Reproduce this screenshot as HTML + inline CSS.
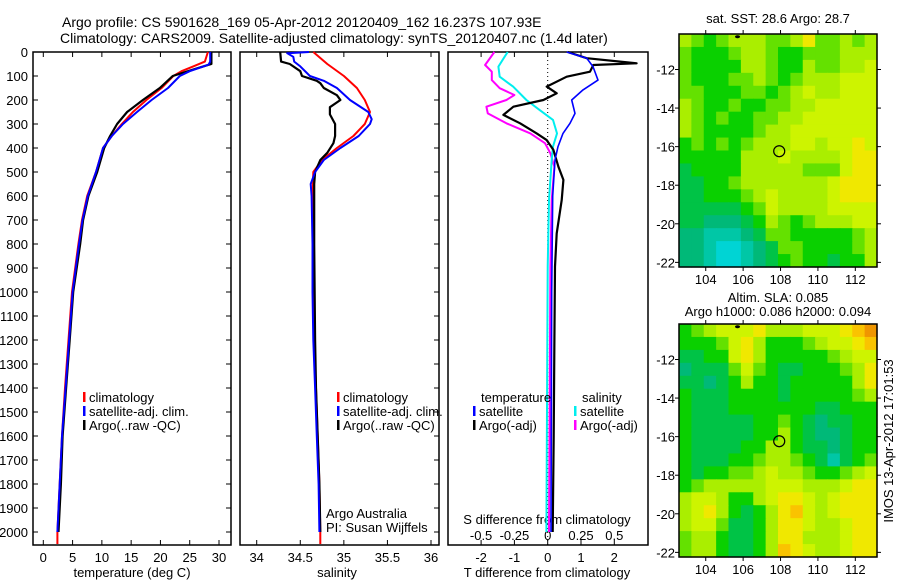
<!DOCTYPE html>
<html><head><meta charset="utf-8">
<style>
html,body{margin:0;padding:0;background:#fff;}
svg{display:block;font-family:"Liberation Sans",sans-serif;}
text{fill:#000;}
</style></head>
<body>
<svg id="fig" width="900" height="580" viewBox="0 0 900 580">
<text x="62" y="27" font-size="14">Argo profile: CS 5901628_169 05-Apr-2012 20120409_162 16.237S 107.93E</text>
<text x="60" y="43" font-size="14">Climatology: CARS2009. Satellite-adjusted climatology: synTS_20120407.nc (1.4d later)</text>
<g id="g1"></g>
<g id="g2"></g>
<g id="g3"></g>
<g id="m1"></g>
<g id="m2"></g>
<text transform="translate(893,441) rotate(-90)" font-size="13" text-anchor="middle">IMOS 13-Apr-2012 17:01:53</text>
</svg>
<script>
// ---- data ----
const depthTicks=[0,100,200,300,400,500,600,700,800,900,1000,1100,1200,1300,1400,1500,1600,1700,1800,1900,2000];
const tTicks=[0,5,10,15,20,25,30];
const sTicks=[34,34.5,35,35.5,36];
const tdTicks=[-2,-1,0,1,2];
const sdTicks=[-0.5,-0.25,0,0.25,0.5];
const sdLabels=["-0.5","-0.25","0","0.25","0.5"];
const lonTicks=[104,106,108,110,112];
const latTicks=[-12,-14,-16,-18,-20,-22];

const tClimD=[0,40,60,80,100,150,200,250,300,350,400,500,600,700,800,1000,1200,1400,1600,1800,2000,2050];
const tClim=[28.1,27.6,25.6,23.6,22.2,20.2,17.6,15.3,13.4,11.7,10.2,9.0,7.5,6.6,6.0,4.9,4.3,3.7,3.2,2.8,2.4,2.4];
const tSatD=[0,40,53,80,100,150,200,250,300,350,400,500,600,700,800,1000,1200,1400,1600,1800,2000];
const tSat=[28.5,28.5,28.2,25.0,23.3,21.3,18.5,16.0,13.6,11.7,10.2,9.0,7.6,6.7,6.1,5.0,4.4,3.8,3.2,2.8,2.4];
const tArgoD=[0,50,55,70,100,150,200,250,300,350,400,500,600,700,800,1000,1200,1400,1600,1800,2000];
const tArgo=[28.7,28.7,28.0,26.0,22.1,19.9,17.0,14.3,12.6,11.4,10.4,9.2,7.7,6.8,6.3,5.1,4.5,3.9,3.3,3.0,2.6];

const sClimD=[0,50,100,150,200,250,300,350,400,450,500,600,800,1000,1200,1400,1600,1800,2000,2050];
const sClim=[34.65,34.81,35.0,35.15,35.24,35.3,35.24,35.11,34.92,34.75,34.65,34.64,34.65,34.65,34.66,34.68,34.7,34.72,34.73,34.73];
const sSatD=[0,5,20,40,60,100,120,150,200,250,280,300,350,400,450,500,550,600,800,1000,1200,1400,1600,1800,2000];
const sSat=[34.6,34.35,34.42,34.43,34.5,34.61,34.77,34.92,35.07,35.28,35.32,35.3,35.17,34.96,34.77,34.67,34.62,34.63,34.64,34.64,34.65,34.67,34.69,34.71,34.72];
const sArgoD=[0,40,50,80,100,120,130,150,180,200,230,260,300,350,380,420,450,500,550,800,1200,1400,1600,1800,2000];
const sArgo=[34.27,34.28,34.38,34.5,34.52,34.69,34.73,34.77,34.92,34.96,34.84,34.84,34.9,34.9,34.88,34.81,34.73,34.67,34.66,34.66,34.67,34.68,34.7,34.72,34.73];

const dTSatD=[0,26,61,117,158,200,256,297,339,394,450,600,1000,2000];
const dTSat=[0.57,1.17,1.36,1.51,1.06,0.72,0.82,0.67,0.46,0.31,0.22,0.15,0.12,0.1];
const dTArgoD=[0,26,47,54,82,103,144,172,200,228,262,297,339,367,408,478,533,617,756,894,1200,1600,2000];
const dTArgo=[0.6,1.17,2.67,1.37,1.27,0.57,-0.03,0.27,-0.13,-1.03,-1.33,-0.83,-0.33,-0.03,0.17,0.32,0.47,0.42,0.27,0.22,0.2,0.18,0.15];
const dSSatD=[0,26,61,103,144,200,242,283,339,394,450,617,894,2000];
const dSSat=[-0.3,-0.33,-0.37,-0.36,-0.26,-0.16,-0.06,0.04,0.07,0.04,0.03,0.01,0.0,-0.01];
const dSArgoD=[0,54,82,117,151,179,200,228,256,297,339,380,422,478,617,894,2000];
const dSArgo=[-0.4,-0.47,-0.42,-0.42,-0.36,-0.25,-0.31,-0.46,-0.45,-0.31,-0.13,-0.02,0.02,0.05,0.03,0.02,0.01];

const sstGrid=[
[6,5,4,5,6,6,6,5,5,6,8,5,5,6,5,6],
[5,4,4,4,5,6,6,5,4,4,5,5,5,6,6,6],
[5,4,4,4,4,6,6,5,4,4,6,5,5,6,6,7],
[5,4,4,4,5,5,6,5,4,5,6,6,6,7,7,7],
[5,5,4,4,4,5,5,4,5,6,7,6,6,7,7,7],
[6,5,4,4,5,4,4,5,5,6,6,7,7,7,7,7],
[6,5,4,5,4,4,5,5,6,6,7,7,7,7,7,7],
[6,5,4,4,4,4,5,6,6,7,7,7,7,7,7,7],
[4,5,4,5,4,5,6,6,6,7,7,6,7,7,8,7],
[4,4,4,4,4,6,6,6,7,6,6,6,6,7,8,8],
[3,4,4,4,4,6,6,6,6,6,5,5,5,7,8,8],
[3,3,4,4,5,6,6,6,6,6,6,6,7,8,8,8],
[3,3,4,4,4,5,6,7,6,6,6,6,7,8,8,8],
[3,3,3,3,3,4,5,7,6,6,6,6,7,7,7,7],
[3,3,2,2,2,3,4,6,5,4,5,6,6,6,7,7],
[2,2,1,1,1,2,3,5,5,4,4,4,4,4,5,6],
[2,2,1,0,0,1,2,3,5,5,4,4,4,4,5,6],
[2,2,1,0,0,1,2,3,4,5,4,4,3,4,4,6]];
const slaGrid=[
[4,5,6,7,7,7,8,6,6,6,7,7,7,8,9,10],
[4,4,4,5,7,8,6,4,4,4,5,6,7,7,8,9],
[3,3,4,4,7,8,6,4,4,4,4,4,5,6,7,7],
[2,3,3,3,5,7,5,4,3,3,4,4,4,5,6,8],
[3,3,2,3,4,6,4,4,3,4,4,4,4,4,6,8],
[4,3,3,3,4,4,4,4,3,4,4,4,4,4,5,6],
[4,3,3,3,4,4,4,4,4,4,4,3,3,4,4,4],
[4,3,3,3,3,3,4,4,5,4,3,2,3,3,4,4],
[4,3,3,3,3,3,4,4,6,4,3,2,2,3,4,4],
[4,3,3,3,3,4,4,6,6,4,3,3,2,3,4,4],
[4,3,3,3,4,4,5,6,6,5,4,3,1,3,4,5],
[4,3,4,4,5,5,6,7,6,6,5,4,4,5,6,7],
[4,5,6,6,6,6,6,7,7,7,6,6,6,7,8,8],
[6,7,7,6,4,4,6,7,8,8,7,6,7,8,8,8],
[6,7,8,6,4,3,4,6,8,9,7,6,7,8,8,8],
[6,7,7,5,3,3,4,6,8,8,7,6,6,7,8,8],
[5,6,6,4,3,3,4,6,8,8,6,6,6,7,8,8],
[5,6,6,4,3,3,4,6,9,8,7,6,6,7,8,8]];

// ---- helpers ----
const NS="http://www.w3.org/2000/svg";
function mk(tag,attrs,parent){const e=document.createElementNS(NS,tag);for(const k in attrs)e.setAttribute(k,attrs[k]);parent.appendChild(e);return e;}
function lin(d0,d1,r0,r1){return v=>r0+(v-d0)*(r1-r0)/(d1-d0);}
const pTop=52,pBot=545;
const yD=lin(0,2000,52,532);

function frame(g,x0,x1,name){
  const r=mk('rect',{x:x0,y:pTop,width:x1-x0,height:pBot-pTop,fill:'none',stroke:'#000','stroke-width':1.5},g);
  
  
}
function line(g,xs,ds,xf,color,w,name){
  const pts=xs.map((v,i)=>xf(v).toFixed(1)+','+yD(ds[i]).toFixed(1)).join(' ');
  const p=mk('polyline',{points:pts,fill:'none',stroke:color,'stroke-width':w,'stroke-linejoin':'round'},g);
  
  
}
function txt(g,x,y,s,size,anchor,name){
  const t=mk('text',{x:x,y:y,'font-size':size,'text-anchor':anchor||'start'},g);
  t.textContent=s;
  
  
  return t;
}
function legend(g,x,y,color,label,name){
  const r=mk('rect',{x:x,y:y-10,width:2.5,height:10,fill:color},g);
  
  
  txt(g,x+6,y,label,13,'start',name);
}

// ---- panel 1 temperature ----
const g1=document.getElementById('g1');
const xT=lin(0,30,43.3,219);
frame(g1,33,231,'temperature-plot-frame');
depthTicks.forEach(d=>{
  const y=yD(d);
  mk('line',{x1:33,x2:38,y1:y,y2:y,stroke:'#000'},g1);
  mk('line',{x1:226,x2:231,y1:y,y2:y,stroke:'#000'},g1);
  txt(g1,28,y+5,String(d),13,'end','depth-tick-label');
});
tTicks.forEach(v=>{
  const x=xT(v);
  mk('line',{x1:x,x2:x,y1:pBot,y2:pBot-5,stroke:'#000'},g1);
  mk('line',{x1:x,x2:x,y1:pTop,y2:pTop+5,stroke:'#000'},g1);
  txt(g1,x,562,String(v),13,'middle','temperature-tick-label');
});
txt(g1,132,577,'temperature (deg C)',13,'middle','temperature-axis-title');
line(g1,tClim,tClimD,xT,'#f00',2,'temperature-climatology-line');
line(g1,tArgo,tArgoD,xT,'#000',2.2,'temperature-argo-line');
line(g1,tSat,tSatD,xT,'#00f',2,'temperature-satellite-line');
legend(g1,83,402,'#f00','climatology','legend-climatology');
legend(g1,83,416,'#00f','satellite-adj. clim.','legend-satellite-adj');
legend(g1,83,430,'#000','Argo(..raw -QC)','legend-argo');

// ---- panel 2 salinity ----
const g2=document.getElementById('g2');
const xS=lin(34,36,256.7,431);
frame(g2,240,439,'salinity-plot-frame');
sTicks.forEach((v,i)=>{
  const x=xS(v);
  mk('line',{x1:x,x2:x,y1:pBot,y2:pBot-5,stroke:'#000'},g2);
  mk('line',{x1:x,x2:x,y1:pTop,y2:pTop+5,stroke:'#000'},g2);
  txt(g2,x,562,String(v),13,'middle','salinity-tick-label');
});
depthTicks.forEach(d=>{const y=yD(d);mk('line',{x1:434,x2:439,y1:y,y2:y,stroke:'#000'},g2);});
txt(g2,337,577,'salinity',13,'middle','salinity-axis-title');
line(g2,sClim,sClimD,xS,'#f00',2,'salinity-climatology-line');
line(g2,sArgo,sArgoD,xS,'#000',2.2,'salinity-argo-line');
line(g2,sSat,sSatD,xS,'#00f',2,'salinity-satellite-line');
legend(g2,337,402,'#f00','climatology','legend-climatology');
legend(g2,337,416,'#00f','satellite-adj. clim.','legend-satellite-adj');
legend(g2,337,430,'#000','Argo(..raw -QC)','legend-argo');
txt(g2,326,518,'Argo Australia',13,'start','credit-argo-australia');
txt(g2,326,532,'PI: Susan Wijffels',13,'start','credit-pi');

// ---- panel 3 differences ----
const g3=document.getElementById('g3');
const xTd=lin(0,2,547.7,614.3);
const xSd=lin(0,0.5,547.7,614.3);
frame(g3,448,648,'difference-plot-frame');
mk('line',{x1:xTd(0),x2:xTd(0),y1:pTop,y2:pBot,stroke:'#000','stroke-dasharray':'1,3'},g3);
tdTicks.forEach(v=>{
  const x=xTd(v);
  mk('line',{x1:x,x2:x,y1:pBot,y2:pBot-5,stroke:'#000'},g3);
  mk('line',{x1:x,x2:x,y1:pTop,y2:pTop+5,stroke:'#000'},g3);
  txt(g3,x,562,String(v),13,'middle','t-diff-tick-label');
});
sdTicks.forEach((v,i)=>{
  txt(g3,xSd(v),540,sdLabels[i],13,'middle','s-diff-tick-label');
});
txt(g3,547,524,'S difference from climatology',13,'middle','s-diff-axis-title');
txt(g3,547,577,'T difference from climatology',13,'middle','t-diff-axis-title');
line(g3,dSArgo,dSArgoD,xSd,'#f0f',2,'salinity-argo-diff-line');
line(g3,dSSat,dSSatD,xSd,'#0ee',2,'salinity-satellite-diff-line');
line(g3,dTArgo,dTArgoD,xTd,'#000',2.2,'temperature-argo-diff-line');
line(g3,dTSat,dTSatD,xTd,'#00f',1.6,'temperature-satellite-diff-line');
txt(g3,481,402,'temperature',13,'start','legend-temperature-heading');
legend(g3,473,416,'#00f','satellite','legend-temperature-satellite');
legend(g3,473,430,'#000','Argo(-adj)','legend-temperature-argo');
txt(g3,582,402,'salinity',13,'start','legend-salinity-heading');
legend(g3,574,416,'#0ee','satellite','legend-salinity-satellite');
legend(g3,574,430,'#f0f','Argo(-adj)','legend-salinity-argo');

// ---- maps ----
const cmapStops=[[0,[0,212,212]],[2,[0,185,120]],[3,[0,195,70]],[4,[10,208,0]],[5,[100,225,0]],[6,[170,238,0]],[7,[205,244,0]],[8,[240,232,0]],[9,[250,195,0]],[10,[240,150,0]]];
function cmap(v){
  for(let i=0;i<cmapStops.length-1;i++){
    const [a,ca]=cmapStops[i],[b,cb]=cmapStops[i+1];
    if(v<=b){const f=(v-a)/(b-a);return 'rgb('+ca.map((c,k)=>Math.round(c+(cb[k]-c)*f)).join(',')+')';}
  }
  return 'rgb(240,150,0)';
}
function drawMap(id,grid,y0,y1,titles){
  const g=document.getElementById(id);
  const x0=679,x1=877;
  const xL=lin(102.57,113.16,x0,x1), yL=lin(-10.16,-22.24,y0,y1);
  const rows=grid.length, cols=grid[0].length;
  const cw=(x1-x0)/cols, ch=(y1-y0)/rows;
  grid.forEach((row,r)=>row.forEach((v,c)=>{
    const e=mk('rect',{x:(x0+c*cw).toFixed(2),y:(y0+r*ch).toFixed(2),width:(cw+0.6).toFixed(2),height:(ch+0.6).toFixed(2),fill:cmap(v)},g);
    
    
  }));
  const fr=mk('rect',{x:x0,y:y0,width:x1-x0,height:y1-y0,fill:'none',stroke:'#000','stroke-width':1.5},g);
  
  
  lonTicks.forEach(v=>{
    const x=xL(v);
    mk('line',{x1:x,x2:x,y1:y0,y2:y0-4,stroke:'#000'},g);
    mk('line',{x1:x,x2:x,y1:y1,y2:y1+4,stroke:'#000'},g);
    txt(g,x,y1+17,String(v),13,'middle','lon-tick-label');
  });
  latTicks.forEach(v=>{
    const y=yL(v);
    mk('line',{x1:x0,x2:x0-4,y1:y,y2:y,stroke:'#000'},g);
    mk('line',{x1:x1,x2:x1+4,y1:y,y2:y,stroke:'#000'},g);
    txt(g,x0-4,y+5,String(v),13,'end','lat-tick-label');
  });
  const c=mk('circle',{cx:xL(107.93),cy:yL(-16.237),r:5.5,fill:'none',stroke:'#000','stroke-width':1.2},g);
  
  
  const d=mk('ellipse',{cx:xL(105.7),cy:yL(-10.3),rx:2.5,ry:1.5,fill:'#000'},g);
  
  
  titles.forEach((t,i)=>txt(g,778,titles.length===1?y0-11:y0-22+i*14,t,13,'middle','map-title'));
}
drawMap('m1',sstGrid,34,267,['sat. SST: 28.6 Argo: 28.7']);
drawMap('m2',slaGrid,324,557,['Altim. SLA: 0.085','Argo h1000: 0.086 h2000: 0.094']);
</script>
</body></html>
